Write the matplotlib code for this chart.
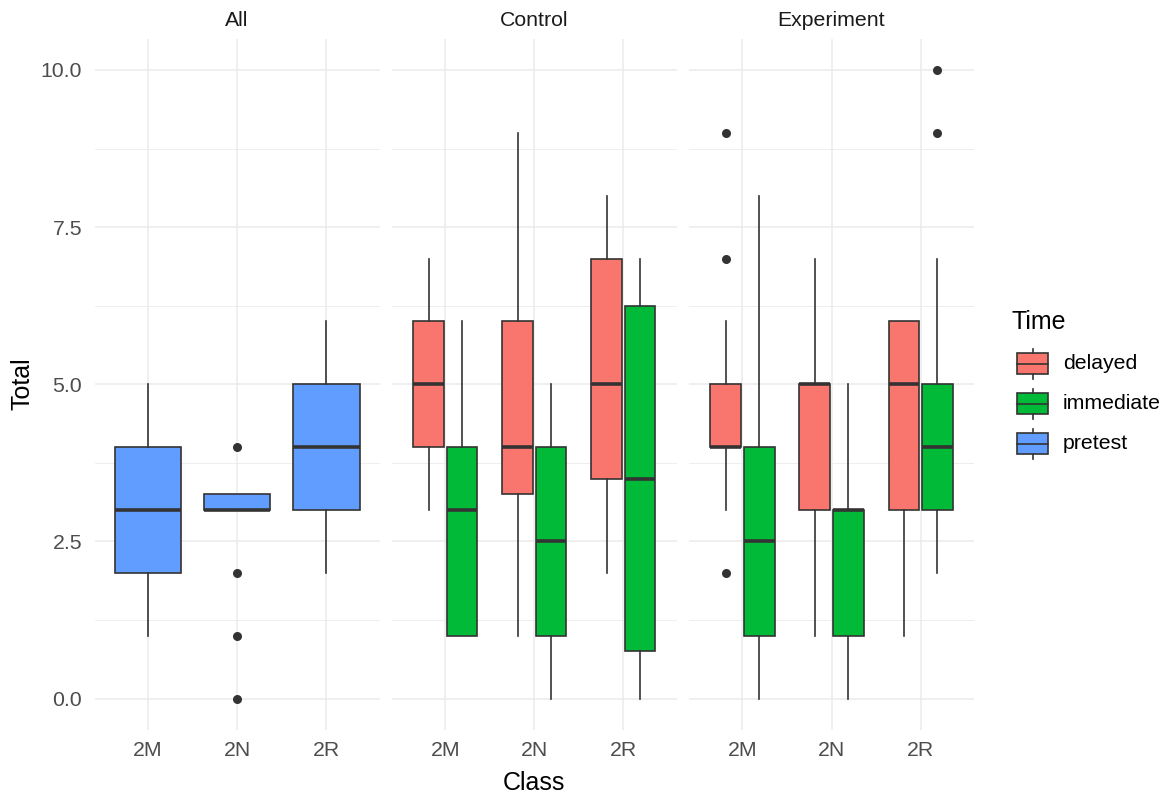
import matplotlib.pyplot as plt
from matplotlib.patches import Rectangle
import numpy as np

plt.rcParams['font.family'] = ['Liberation Sans', 'DejaVu Sans']

# 数据：箱线图统计量
classes = ["2M", "2N", "2R"]
panels = ["All", "Control", "Experiment"]
times = ["delayed", "immediate", "pretest"]
colors = {"delayed": "#F8766D", "immediate": "#00BA38", "pretest": "#619CFF"}

# All - pretest
pre_q1 = [2, 3, 3]
pre_med = [3, 3, 4]
pre_q3 = [4, 3.25, 5]
pre_lo = [1, 3, 2]
pre_hi = [5, 3.25, 6]
pre_out = [[], [4, 2, 1, 0], []]

# Control - delayed / immediate
ctrl_del_q1 = [4, 3.25, 3.5]
ctrl_del_med = [5, 4, 5]
ctrl_del_q3 = [6, 6, 7]
ctrl_del_lo = [3, 1, 2]
ctrl_del_hi = [7, 9, 8]
ctrl_del_out = [[], [], []]

ctrl_imm_q1 = [1, 1, 0.75]
ctrl_imm_med = [3, 2.5, 3.5]
ctrl_imm_q3 = [4, 4, 6.25]
ctrl_imm_lo = [1, 0, 0]
ctrl_imm_hi = [6, 5, 7]
ctrl_imm_out = [[], [], []]

# Experiment - delayed / immediate
exp_del_q1 = [4, 3, 3]
exp_del_med = [4, 5, 5]
exp_del_q3 = [5, 5, 6]
exp_del_lo = [3, 1, 1]
exp_del_hi = [6, 7, 6]
exp_del_out = [[9, 7, 2], [], []]

exp_imm_q1 = [1, 1, 3]
exp_imm_med = [2.5, 3, 4]
exp_imm_q3 = [4, 3, 5]
exp_imm_lo = [0, 0, 2]
exp_imm_hi = [8, 5, 7]
exp_imm_out = [[], [], [10, 9]]

y_ticks = [0, 2.5, 5, 7.5, 10]
y_tick_labels = ["0.0", "2.5", "5.0", "7.5", "10.0"]


def make_stats(q1, med, q3, lo, hi, out):
    return [dict(q1=q1[i], med=med[i], q3=q3[i], whislo=lo[i], whishi=hi[i],
                 fliers=out[i]) for i in range(len(q1))]


panel_series = {
    "All": [("pretest", make_stats(pre_q1, pre_med, pre_q3, pre_lo, pre_hi, pre_out))],
    "Control": [
        ("delayed", make_stats(ctrl_del_q1, ctrl_del_med, ctrl_del_q3, ctrl_del_lo, ctrl_del_hi, ctrl_del_out)),
        ("immediate", make_stats(ctrl_imm_q1, ctrl_imm_med, ctrl_imm_q3, ctrl_imm_lo, ctrl_imm_hi, ctrl_imm_out)),
    ],
    "Experiment": [
        ("delayed", make_stats(exp_del_q1, exp_del_med, exp_del_q3, exp_del_lo, exp_del_hi, exp_del_out)),
        ("immediate", make_stats(exp_imm_q1, exp_imm_med, exp_imm_q3, exp_imm_lo, exp_imm_hi, exp_imm_out)),
    ],
}

W, H = 1169, 795
fig = plt.figure(figsize=(W / 100, H / 100), dpi=100)

edge = "#333333"
grid_c = "#EBEBEB"
small = 15.3
big = 18

panel_left = [94.6, 391.8, 689.0]
panel_w = 285.0
top_px, bot_px = 38.5, 730.0

axes = []
for k, name in enumerate(panels):
    ax = fig.add_axes([panel_left[k] / W, 1 - bot_px / H, panel_w / W, (bot_px - top_px) / H])
    axes.append(ax)
    series = panel_series[name]
    n = len(series)
    x = np.arange(1, len(classes) + 1)
    for j, (t, stats) in enumerate(series):
        if n == 1:
            pos, width = x, 0.75
        else:
            pos, width = x + (j - 0.5) * 0.375, 0.345
        ax.bxp(stats, positions=pos, widths=width, patch_artist=True, showcaps=False,
               boxprops=dict(facecolor=colors[t], edgecolor=edge, linewidth=1.2),
               medianprops=dict(color=edge, linewidth=2.6),
               whiskerprops=dict(color=edge, linewidth=1.2),
               flierprops=dict(marker='o', markerfacecolor=edge, markeredgecolor='none',
                               markersize=6.5))
    ax.set_xlim(0.4, 3.6)
    ax.set_ylim(-0.5, 10.5)
    ax.set_xticks(x, labels=classes)
    ax.set_yticks(y_ticks, labels=y_tick_labels)
    ax.set_yticks([1.25, 3.75, 6.25, 8.75], minor=True)
    ax.grid(True, which='major', color=grid_c, linewidth=1.1)
    ax.grid(True, which='minor', axis='y', color=grid_c, linewidth=0.6)
    ax.set_axisbelow(True)
    for s in ax.spines.values():
        s.set_visible(False)
    ax.tick_params(which='both', length=0, labelsize=small, labelcolor="#4D4D4D")
    ax.tick_params(axis='x', pad=8)
    ax.tick_params(axis='y', pad=9)
    if k > 0:
        ax.tick_params(axis='y', labelleft=False)
    ax.set_title(name, fontsize=small, color="#1A1A1A", pad=9)

# 轴标题
fig.text((panel_left[0] + panel_left[2] + panel_w) / 2 / W, 1 - 783 / H, "Class",
         ha='center', va='center', fontsize=big, color='black')
fig.text(22 / W, 1 - 384 / H, "Total", ha='center', va='center', rotation=90,
         fontsize=big, color='black')

# 图例（手工绘制，与 ggplot 的箱线图图例键一致）
lax = fig.add_axes([0, 0, 1, 1], facecolor='none')
lax.set_xlim(0, W)
lax.set_ylim(H, 0)
lax.axis('off')
lax.text(1011, 322, "Time", ha='left', va='center', fontsize=big, color='black')
for i, t in enumerate(times):
    cy = 363.5 + 40 * i
    lax.add_patch(Rectangle((1017, cy - 10.5), 31, 21, facecolor=colors[t],
                            edgecolor=edge, linewidth=1.2))
    lax.plot([1017, 1048], [cy, cy], color=edge, linewidth=1.2)
    lax.plot([1032.5, 1032.5], [cy - 15, cy - 10.5], color=edge, linewidth=1.2)
    lax.plot([1032.5, 1032.5], [cy + 10.5, cy + 15], color=edge, linewidth=1.2)
    lax.text(1063, cy, t, ha='left', va='center', fontsize=small, color='black')

plt.savefig('out.png', dpi=100)
